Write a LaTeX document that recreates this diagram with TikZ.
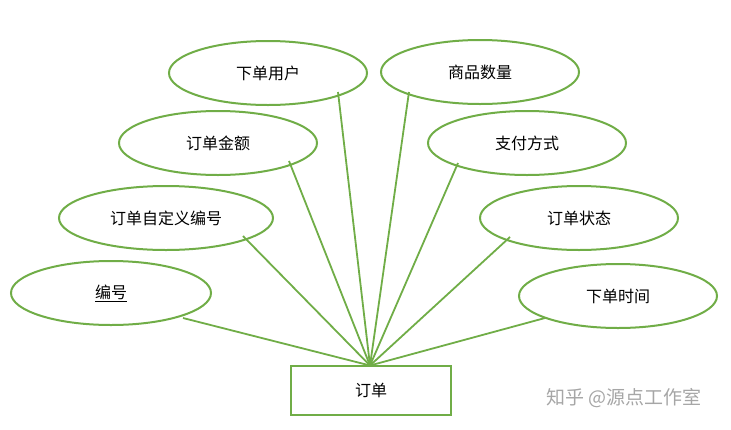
\documentclass[tikz,border=0pt]{standalone}
\usepackage{fontspec}
\setmainfont{Noto Sans CJK SC}
\usetikzlibrary{shapes.geometric}
\definecolor{eg}{HTML}{70AD47}
\tikzset{
  attr/.style={ellipse,draw=eg,line width=2pt,minimum width=198pt,minimum height=64pt,font=\fontsize{16}{18}\selectfont,inner sep=0pt},
  ent/.style={rectangle,draw=eg,line width=2pt,minimum width=160pt,minimum height=49pt,font=\fontsize{16}{18}\selectfont},
  lk/.style={draw=eg,line width=1.8pt}
}
\begin{document}
\begin{tikzpicture}[x=1pt,y=-1pt]
\useasboundingbox (0,0) rectangle (731,429);
\node[attr] (a1) at (268,73) {下单用户};
\node[attr] (a2) at (480,72) {商品数量};
\node[attr] (a3) at (218,143) {订单金额};
\node[attr] (a4) at (527,143) {支付方式};
\node[attr,minimum width=214pt] (a5) at (166,218) {订单自定义编号};
\node[attr] (a6) at (579,218) {订单状态};
\node[attr,minimum width=200pt] (a7) at (111,293) {\underline{编号}};
\node[attr] (a8) at (618,296) {下单时间};
\node[ent] (e) at (371,390) {订单};
\coordinate (c) at (370,365.5);
\draw[lk] (c) -- (338,92);
\draw[lk] (c) -- (409,92);
\draw[lk] (c) -- (289,161);
\draw[lk] (c) -- (458,163);
\draw[lk] (c) -- (243,236);
\draw[lk] (c) -- (510,237);
\draw[lk] (c) -- (183,318);
\draw[lk] (c) -- (545,318);
\node[text=gray!70,font=\fontsize{19}{21}\selectfont,anchor=center] (wm) at (624,398) {知乎 @源点工作室};
\end{tikzpicture}
\end{document}
